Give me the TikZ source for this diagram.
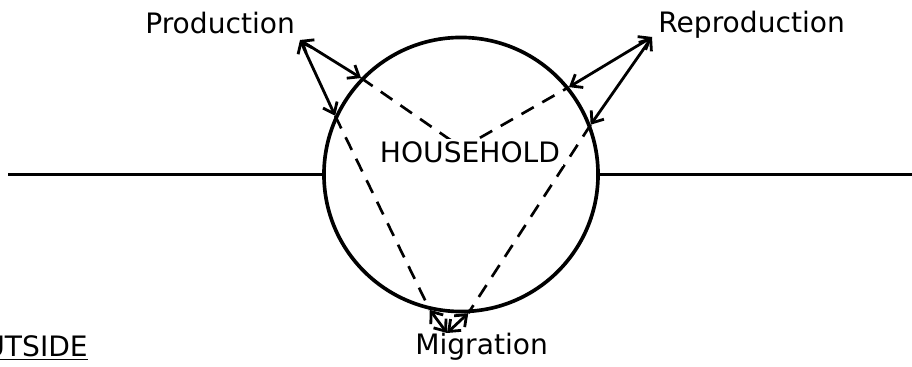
\documentclass[tikz,border=0pt]{standalone}
\usepackage{fontspec}
\setmainfont{DejaVu Sans}
\usetikzlibrary{arrows.meta}
\begin{document}
\begin{tikzpicture}[x=0.025cm, y=0.025cm, >={Straight Barb[length=7pt,width=11pt]},
  link/.style={<->, line width=2pt},
  tie/.style={line width=1.9pt, dash pattern=on 10pt off 7pt},
  font=\fontsize{20}{24}\selectfont]
  \useasboundingbox (0,0) rectangle (912,367);
  \node[circle, draw, line width=2.6pt, minimum size=6.85cm, inner sep=0pt] (hh) at (461,192.5) {};
  \coordinate (lend) at (8,192.5);
  \coordinate (rend) at (912,192.5);
  \draw[line width=2pt] (lend) -- (hh.west);
  \draw[line width=2pt] (hh.east) -- (rend);
  \coordinate (vtx) at (462,219);
  \draw[tie] (hh.136.5) -- (vtx) -- (hh.39);
  \draw[tie] (hh.155) -- (hh.-103);
  \draw[tie] (hh.21) -- (hh.-87.5);
  \node[anchor=base, fill=white, inner sep=2pt] (house) at (470,204) {HOUSEHOLD};
  \node[anchor=base west, inner sep=0pt] (prod) at (145,333) {Production};
  \node[anchor=base west, inner sep=0pt] (repr) at (658,334) {Reproduction};
  \node[anchor=base west, inner sep=0pt] (migr) at (415,12) {Migration};
  \node[anchor=base east, inner sep=0pt] (outs) at (88,10) {\underline{OUTSIDE}};
  \coordinate (ptip) at (300,327);
  \coordinate (rtip) at (652,330);
  \coordinate (mtip) at (447,34);
  \draw[link] (ptip) -- (hh.136.5);
  \draw[link] (ptip) -- (hh.155);
  \draw[link] (rtip) -- (hh.39);
  \draw[link] (rtip) -- (hh.21);
  \draw[link] (mtip) -- (hh.-103);
  \draw[link] (mtip) -- (hh.-87.5);
\end{tikzpicture}
\end{document}
